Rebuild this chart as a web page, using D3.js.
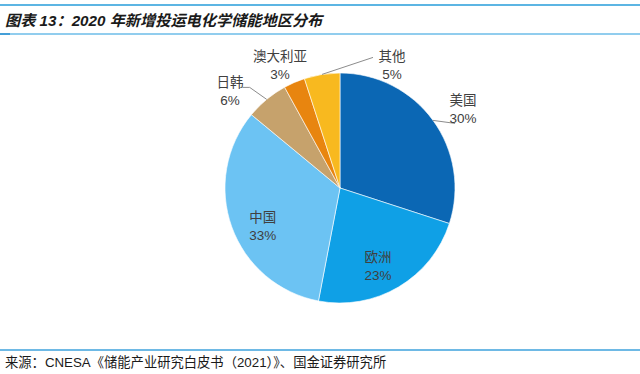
<!DOCTYPE html>
<html>
<head>
<meta charset="utf-8">
<script src="https://cdn.jsdelivr.net/npm/d3@7"></script>
<style>
  body { margin: 0; background: #fff; }
  svg { display: block; font-family: "Liberation Sans", "Noto Sans CJK SC", sans-serif; }
</style>
</head>
<body>
<script>
const regions = ["美国", "欧洲", "中国", "日韩", "澳大利亚", "其他"];
const shares = [30, 23, 33, 6, 3, 5];
const colors = ["#0b67b4", "#0fa0e6", "#6cc3f3", "#c6a26c", "#e8850f", "#f8b91f"];

const w = 640, h = 374;
const cx = 340, cy = 188, r = 115;

const svg = d3.select("body").append("svg")
  .attr("width", w)
  .attr("height", h);

// header / footer rules
svg.append("line").attr("x1", 0).attr("x2", w).attr("y1", 5).attr("y2", 5)
  .attr("stroke", "#5cb5e3").attr("stroke-width", 2);
svg.append("line").attr("x1", 0).attr("x2", w).attr("y1", 34).attr("y2", 34)
  .attr("stroke", "#6dbde8").attr("stroke-width", 1.5);
svg.append("line").attr("x1", 0).attr("x2", 10).attr("y1", 34).attr("y2", 34)
  .attr("stroke", "#2b8fd0").attr("stroke-width", 1.5);
svg.append("line").attr("x1", 0).attr("x2", w).attr("y1", 350).attr("y2", 350)
  .attr("stroke", "#3ea2dc").attr("stroke-width", 1.5);

svg.append("text")
  .attr("x", 5).attr("y", 26)
  .attr("font-size", 15.2)
  .attr("font-weight", "bold")
  .attr("font-style", "italic")
  .attr("fill", "#1a1a1a")
  .text("图表 13：2020 年新增投运电化学储能地区分布");

svg.append("text")
  .attr("x", 5).attr("y", 367)
  .attr("font-size", 13.3)
  .attr("fill", "#1a1a1a")
  .text("来源：CNESA《储能产业研究白皮书（2021）》、国金证券研究所");

const pie = d3.pie().sort(null).value(d => d.v);
const data = pie(regions.map((n, i) => ({ n, v: shares[i], c: colors[i] })));

const arc = d3.arc().innerRadius(0).outerRadius(r);
const edge = d3.arc().innerRadius(r).outerRadius(r);
const inner = d3.arc().innerRadius(r * 0.77).outerRadius(r * 0.77);

const g = svg.append("g").attr("transform", `translate(${cx},${cy})`);

g.selectAll("path.slice")
  .data(data)
  .enter()
  .append("path")
  .attr("class", "slice")
  .attr("d", arc)
  .attr("fill", d => d.data.c)
  .attr("stroke", "#fff")
  .attr("stroke-width", 0.6);

// label placement: inside ones nudge the centroid, outside ones sit at a fixed point
const place = {
  "欧洲": { nudge: [-7, 1] },
  "中国": { nudge: [6, 7] },
  "美国": { label: [123, -80], line: [[0, 0], [22, 3]] },
  "其他": { label: [52, -124], line: [[0, 0], [51, -17]] },
  "澳大利亚": { label: [-60, -124], line: null },
  "日韩": { label: [-110, -98], line: [[0, 0], [-17, -12], [-24, -12]] }
};

data.forEach(d => {
  const n = d.data.n;
  const p = place[n];
  let pos;
  if (p.nudge) {
    const c = inner.centroid(d);
    pos = [c[0] + p.nudge[0], c[1] + p.nudge[1]];
  } else {
    pos = p.label;
    if (p.line) {
      const e = edge.centroid(d);
      g.append("path")
        .attr("d", d3.line()(p.line.map(q => [e[0] + q[0], e[1] + q[1]])))
        .attr("fill", "none")
        .attr("stroke", "#8c8c8c")
        .attr("stroke-width", 1);
    }
  }
  const t = g.append("text")
    .attr("text-anchor", "middle")
    .attr("font-size", 13.5)
    .attr("fill", "#404040");
  t.append("tspan").attr("x", pos[0]).attr("y", pos[1] - 3).text(n);
  t.append("tspan").attr("x", pos[0]).attr("y", pos[1] + 15).text(d.data.v + "%");
});
</script>
</body>
</html>
